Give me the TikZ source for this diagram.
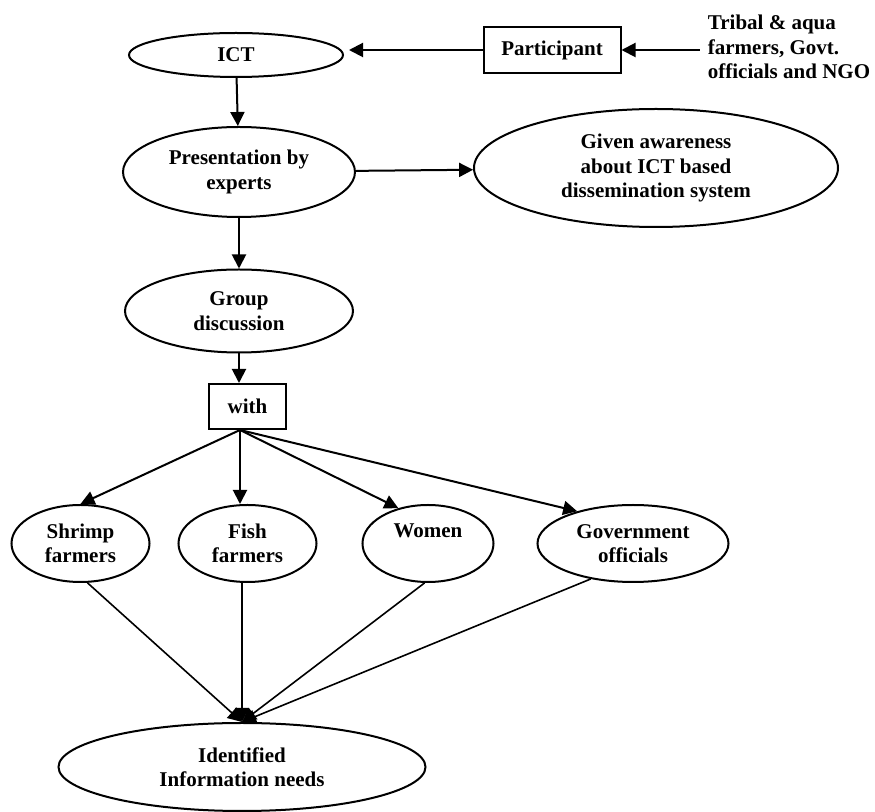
\documentclass[tikz,border=0pt]{standalone}
\usepackage{fontspec}
\setmainfont{Liberation Serif}
\usetikzlibrary{shapes.geometric}
\usetikzlibrary{positioning}
\usetikzlibrary{arrows.meta}
\tikzset{
    on grid,
    every node/.append style={
        font=\fontsize{10.5}{12.25}\selectfont\bfseries,
        align=center
    },
    oval/.style={
        ellipse,
        draw,
        line width=1pt,
        inner sep=0pt
    },
    plainbox/.style={
        rectangle,
        draw,
        line width=1pt,
        inner sep=0pt
    },
    every edge/.append style={
        draw,
        ->,>={Triangle[length=7pt,width=7pt]},
        line width=1pt
    }
}

\begin{document}
\begin{tikzpicture}
                    \useasboundingbox (0,0) rectangle (437.5pt,-406pt);
                    \node[oval, minimum width=107pt, minimum height=22pt] (ict) at (118pt,-27.5pt) {ICT};
                    \node[plainbox, minimum width=68.5pt, minimum height=23pt, right=158pt of ict, yshift=2.5pt] (part) {Participant};
                    \node[align=left, inner sep=4pt, right=118.5pt of part, yshift=1.5pt] (tribal) {Tribal \& aqua\\farmers, Govt.\\officials and NGO};
                    \node[oval, minimum width=116pt, minimum height=45pt, below=58.5pt of ict, xshift=1.5pt] (pres) {Presentation by\\experts};
                    \node[oval, minimum width=182pt, minimum height=59pt, right=208.5pt of pres, yshift=2pt] (given) {Given awareness\\about ICT based\\dissemination system};
                    \node[oval, minimum width=114pt, minimum height=41.5pt, below=69.5pt of pres] (group) {Group\\discussion};
                    \node[plainbox, minimum width=38.5pt, minimum height=22.5pt, below=47.75pt of group, xshift=4.25pt] (with) {with};
                    \coordinate (hub) at ([xshift=-3.75pt]with.south);
                    \node[oval, minimum width=69pt, minimum height=38.5pt, below=68.5pt of with] (fish) {Fish\\farmers};
                    \node[oval, minimum width=69pt, minimum height=38.5pt, left=83.5pt of fish] (shrimp) {Shrimp\\farmers};
                    \node[oval, minimum width=65.5pt, minimum height=38.5pt, right=90.25pt of fish] (women) {Women\\\phantom{W}};
                    \node[oval, minimum width=95.5pt, minimum height=38.5pt, right=102.5pt of women] (gov) {Government\\officials};
                    \node[oval, minimum width=183.5pt, minimum height=44pt, below=111.75pt of fish, xshift=-2.75pt] (ident) {Identified\\Information needs};

                    \draw (tribal.west |- part.east) edge (part.east);
                    \draw (part.west) edge[shorten >=2.5pt] (part.west -| ict.east);
                    \draw (ict) edge (pres);
                    \draw (pres) edge (given)
                        edge (group);
                    \draw (group) edge (group |- with.north);
                    \draw (hub) edge (shrimp.north)
                        edge (hub |- fish.north)
                        edge (women.130)
                        edge (gov.150);
                    \draw[every edge/.append style={line width=0.8pt}] (shrimp.-80) edge (ident.north);
                    \draw[every edge/.append style={line width=0.8pt}] (fish.south -| ident.north) edge (ident.north);
                    \draw[every edge/.append style={line width=0.8pt}] (women.-95) edge (ident.north);
                    \draw[every edge/.append style={line width=0.8pt}] (gov.-140) edge (ident.north);

                \end{tikzpicture}
\end{document}
